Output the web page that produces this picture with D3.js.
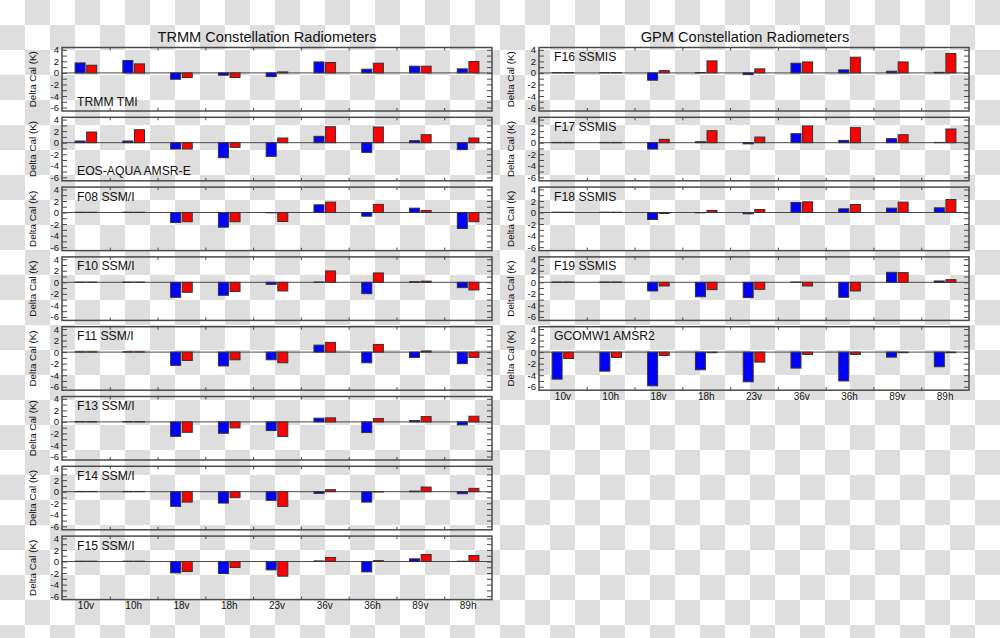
<!DOCTYPE html>
<html>
<head>
<meta charset="utf-8">
<script src="https://cdn.jsdelivr.net/npm/d3@7"></script>
<style>
  html, body { margin: 0; padding: 0; background: #fff; }
  svg { display: block; font-family: "Liberation Sans", Arial, Helvetica, sans-serif; }
</style>
</head>
<body>
<div id="chart"></div>
<script>
// ---------------- data ----------------
const channels = ["10v", "10h", "18v", "18h", "23v", "36v", "36h", "89v", "89h"];
const yTickValues = [4, 2, 0, -2, -4, -6];
const titles = ["TRMM Constellation Radiometers", "GPM Constellation Radiometers"];

const leftSensors = ["TRMM TMI", "EOS-AQUA AMSR-E", "F08 SSM/I", "F10 SSM/I", "F11 SSM/I", "F13 SSM/I", "F14 SSM/I", "F15 SSM/I"];
const leftLabelAtBottom = [true, true, false, false, false, false, false, false];
const leftBlue = [
  [1.73, 2.14, -1.1, -0.4, -0.64, 1.9, 0.64, 1.16, 0.7],
  [0.29, 0.29, -1.1, -2.6, -2.37, 1.1, -1.68, 0.35, -1.2],
  [0.05, 0.05, -1.73, -2.54, -0.05, 1.33, -0.64, 0.75, -2.77],
  [0.05, 0.05, -2.6, -2.25, -0.35, 0.05, -1.97, 0.1, -0.92],
  [0.05, 0.05, -2.3, -2.4, -1.33, 1.21, -1.85, -0.92, -2.0],
  [0.05, 0.05, -2.5, -1.97, -1.5, 0.64, -1.85, 0.23, -0.52],
  [0.05, 0.05, -2.54, -1.97, -1.5, -0.29, -1.8, 0.1, -0.35],
  [0.05, 0.05, -1.97, -2.08, -1.45, 0.1, -1.8, 0.46, 0.05]
];
const leftRed = [
  [1.33, 1.56, -0.8, -0.8, 0.17, 1.8, 1.68, 1.16, 1.97],
  [1.85, 2.25, -1.1, -0.8, 0.81, 2.77, 2.72, 1.39, 0.81],
  [0.05, 0.05, -1.6, -1.6, -1.56, 1.8, 1.4, 0.35, -1.6],
  [0.05, 0.05, -1.73, -1.6, -1.5, 1.97, 1.62, 0.2, -1.33],
  [0.05, 0.05, -1.45, -1.33, -1.85, 1.68, 1.33, 0.2, -0.92],
  [0.05, 0.05, -1.8, -1.04, -2.54, 0.7, 0.58, 0.92, 0.98],
  [0.05, 0.05, -1.8, -1.04, -2.54, 0.35, -0.05, 0.81, 0.58],
  [0.05, 0.05, -1.73, -1.04, -2.54, 0.7, 0.15, 1.21, 1.04]
];

const rightSensors = ["F16 SSMIS", "F17 SSMIS", "F18 SSMIS", "F19 SSMIS", "GCOMW1 AMSR2"];
const rightLabelAtBottom = [false, false, false, false, false];
const rightBlue = [
  [0.05, 0.05, -1.27, 0.05, -0.29, 1.68, 0.52, 0.29, 0.1],
  [0.05, 0.05, -1.1, 0.17, -0.2, 1.56, 0.4, 0.7, 0.05],
  [0.05, 0.05, -1.21, -0.05, -0.23, 1.73, 0.64, 0.75, 0.81],
  [0.05, 0.05, -1.5, -2.5, -2.66, 0.05, -2.6, 1.73, 0.23],
  [-4.68, -3.3, -5.84, -3.06, -5.14, -2.77, -5.0, -0.87, -2.54]
];
const rightRed = [
  [0.05, 0.05, 0.4, 2.08, 0.7, 1.9, 2.72, 1.9, 3.35],
  [0.05, 0.05, 0.58, 2.08, 0.98, 2.9, 2.6, 1.39, 2.37],
  [0.05, 0.05, -0.17, 0.35, 0.52, 1.85, 1.39, 1.8, 2.25],
  [0.05, 0.05, -0.64, -1.27, -1.21, -0.64, -1.5, 1.68, 0.46],
  [-1.1, -0.92, -0.58, -0.1, -1.73, -0.4, -0.4, -0.1, -0.1]
];

// ---------------- layout ----------------
const W = 1000, H = 638;
const panelH = 63.5, pitch = 69.8, top0 = 47.5, panelW = 430;
const cols = [
  { x0: 62, sensors: leftSensors, blue: leftBlue, red: leftRed, bottom: leftLabelAtBottom, title: titles[0], titleX: 267, ylabX: 33 },
  { x0: 539, sensors: rightSensors, blue: rightBlue, red: rightRed, bottom: rightLabelAtBottom, title: titles[1], titleX: 745, ylabX: 511 }
];
const axisColor = "#4a4a4a";

const svg = d3.select("#chart").append("svg").attr("width", W).attr("height", H);

// checkerboard (transparent background look)
const defs = svg.append("defs");
const pat = defs.append("pattern").attr("id", "checker").attr("patternUnits", "userSpaceOnUse")
  .attr("width", 50).attr("height", 50);
pat.append("rect").attr("width", 50).attr("height", 50).attr("fill", "#ffffff");
pat.append("rect").attr("x", 25).attr("y", 0).attr("width", 25).attr("height", 25).attr("fill", "#dedede");
pat.append("rect").attr("x", 0).attr("y", 25).attr("width", 25).attr("height", 25).attr("fill", "#dedede");
svg.append("rect").attr("width", W).attr("height", H).attr("fill", "url(#checker)");

cols.forEach(col => {
  svg.append("text").attr("x", col.titleX).attr("y", 41.5).attr("text-anchor", "middle")
    .attr("font-size", 14.6).attr("fill", "#111").text(col.title);

  col.sensors.forEach((name, i) => {
    const y0 = top0 + i * pitch;
    const x0 = col.x0;
    const g = svg.append("g");
    const x = d3.scaleBand().domain(channels).range([x0, x0 + panelW]);
    const xl = d3.scaleLinear().domain([0, channels.length]).range([x0, x0 + panelW]);
    const y = d3.scaleLinear().domain([-6.6, 4.4]).range([y0 + panelH, y0]);

    // zero line
    g.append("line").attr("x1", x0).attr("x2", x0 + panelW).attr("y1", y(0)).attr("y2", y(0))
      .attr("stroke", axisColor).attr("stroke-width", 1);

    const bw = 10, off = 0.8;
    const bars = channels.map((c, k) => ({ c, b: col.blue[i][k], r: col.red[i][k] }));
    g.selectAll(".blue").data(bars).join("rect")
      .attr("x", d => x(d.c) + x.bandwidth() / 2 - off - bw)
      .attr("y", d => y(Math.max(0, d.b)))
      .attr("width", bw)
      .attr("height", d => Math.abs(y(d.b) - y(0)))
      .attr("fill", "#0000ff").attr("stroke", "#333").attr("stroke-width", 1);
    g.selectAll(".red").data(bars).join("rect")
      .attr("x", d => x(d.c) + x.bandwidth() / 2 + off)
      .attr("y", d => y(Math.max(0, d.r)))
      .attr("width", bw)
      .attr("height", d => Math.abs(y(d.r) - y(0)))
      .attr("fill", "#ff0000").attr("stroke", "#333").attr("stroke-width", 1);

    // axes (ticks inward)
    const styleAxis = sel => {
      sel.select(".domain").remove();
      sel.selectAll(".tick line").attr("stroke", axisColor).attr("stroke-width", 1);
      sel.selectAll("text").attr("fill", "#111");
    };
    g.append("g").attr("transform", `translate(${x0},0)`)
      .call(d3.axisLeft(y).tickValues(d3.range(-6, 5)).tickSize(-5).tickPadding(3)
        .tickFormat(d => yTickValues.includes(d) ? String(d) : ""))
      .attr("font-size", 9.5).attr("font-family", null)
      .call(styleAxis);
    g.append("g").attr("transform", `translate(${x0 + panelW},0)`)
      .call(d3.axisRight(y).tickValues(d3.range(-6, 5)).tickSize(-5).tickFormat(""))
      .call(styleAxis);
    g.append("g").attr("transform", `translate(0,${y0 + panelH})`)
      .call(d3.axisBottom(xl).tickValues(d3.range(1, channels.length)).tickSize(-3).tickFormat(""))
      .call(styleAxis);
    g.append("g").attr("transform", `translate(0,${y0})`)
      .call(d3.axisTop(xl).tickValues(d3.range(1, channels.length)).tickSize(-3).tickFormat(""))
      .call(styleAxis);

    // category labels on last panel
    if (i === col.sensors.length - 1) {
      g.append("g").attr("transform", `translate(0,${y0 + panelH})`)
        .call(d3.axisBottom(x).tickSize(0).tickPadding(2.5))
        .attr("font-size", 10).attr("font-family", null)
        .call(styleAxis);
    }

    // frame
    g.append("rect").attr("x", x0).attr("y", y0).attr("width", panelW).attr("height", panelH)
      .attr("fill", "none").attr("stroke", axisColor).attr("stroke-width", 1.5);

    // y label
    g.append("text").attr("transform", `translate(${col.ylabX},${y0 + panelH / 2}) rotate(-90)`)
      .attr("text-anchor", "middle").attr("dy", "0.35em").attr("font-size", 9.8).attr("fill", "#111")
      .text("Delta Cal (K)");

    // sensor label
    g.append("text").attr("x", x0 + 15).attr("y", col.bottom[i] ? y0 + 58 : y0 + 13.5)
      .attr("font-size", 12.2).attr("fill", "#111").text(name);
  });
});
</script>
</body>
</html>
